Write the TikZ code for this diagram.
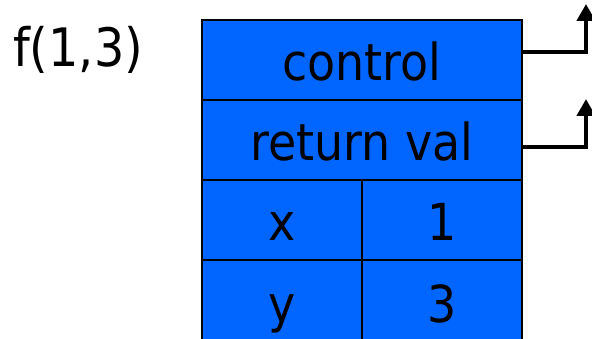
\documentclass[tikz,border=0pt]{standalone}
\usepackage{fontspec}
\setmainfont{DejaVu Sans Condensed}
\usepackage{xcolor}
\definecolor{frameblue}{HTML}{0066FF}
\usetikzlibrary{arrows.meta,positioning}

\begin{document}
\begin{tikzpicture}[x=1pt, y=-1pt,
      cell/.style={draw, line width=2.5pt, fill=frameblue, inner sep=0pt, font=\fontsize{51}{60}\selectfont, minimum height=80pt, text height=46pt, text depth=4pt},
      wide/.style={cell, minimum width=320pt},
      half/.style={cell, minimum width=160pt},
      link/.style={line width=4.5pt, -{Triangle[width=18pt,length=17pt]}}
    ]
    \useasboundingbox (0,0) rectangle (592,339);
    \node[font=\fontsize{53}{60}\selectfont, anchor=base west, inner sep=0pt] (fcall) at (13,67) {f(1,3)};
    \node[wide] (ctrl) at (362,60) {control};
    \node[wide] (ret) at (362,140) {return val};
    \node[half] (xname) at (282,220) {x};
    \node[half] (xval) at (442,220) {1};
    \node[half, minimum height=84pt] (yname) at (282,302) {y};
    \node[half, minimum height=84pt] (yval) at (442,302) {3};
    \coordinate (up1) at (586,4);
    \coordinate (up2) at (586,99);
    \draw[link] ([yshift=8pt]ctrl.east) -| (up1);
    \draw[link] ([yshift=-7pt]ret.east) -| (up2);
  \end{tikzpicture}
\end{document}
